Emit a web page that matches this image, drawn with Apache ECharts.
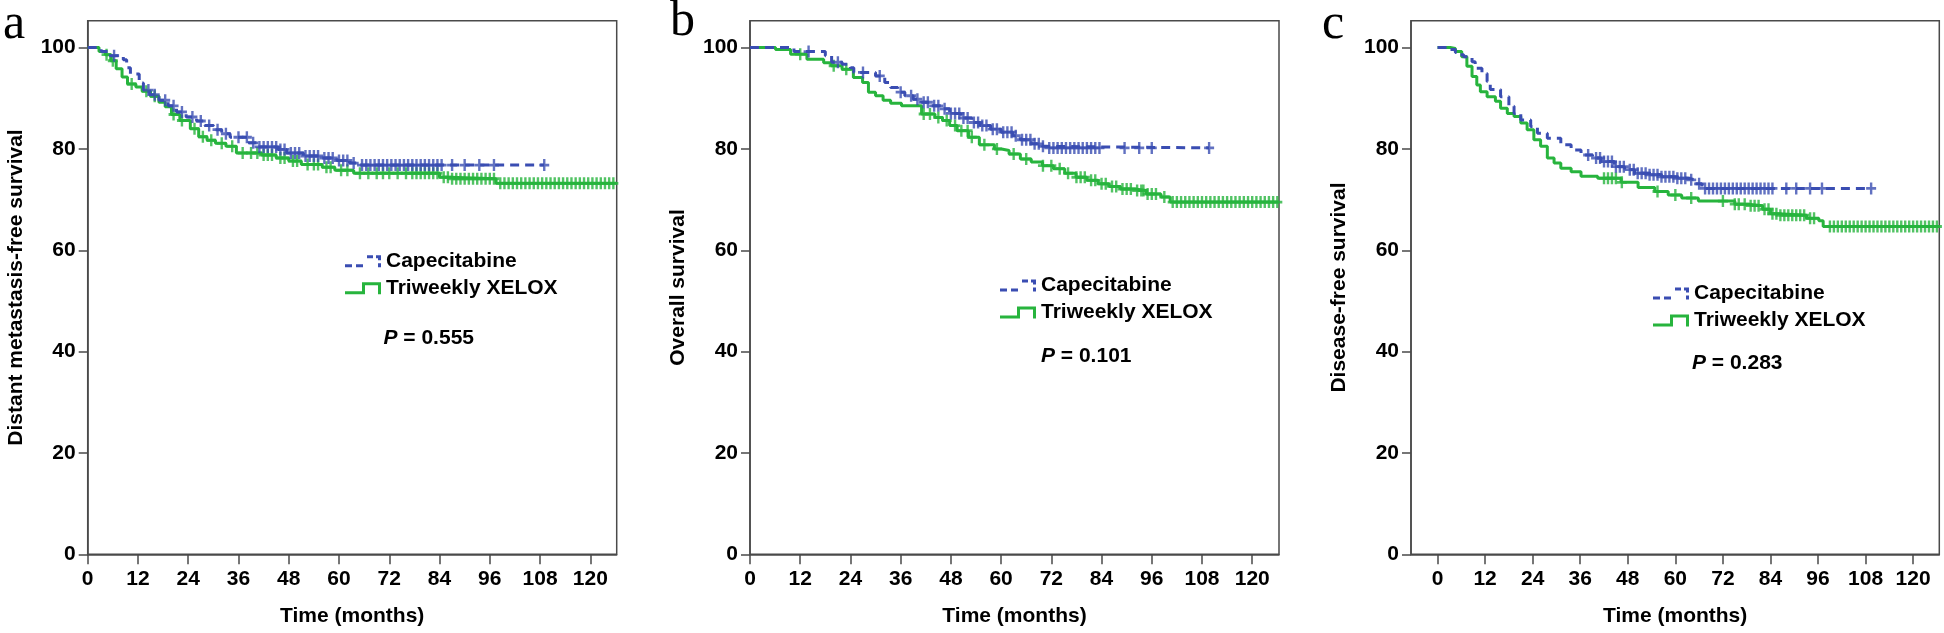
<!DOCTYPE html>
<html><head><meta charset="utf-8">
<script src="https://cdn.jsdelivr.net/npm/echarts@6/dist/echarts.min.js"></script>
<style>html,body{margin:0;padding:0;background:#fff}#c{width:1944px;height:633px}</style>
</head><body><div id="c"></div>
<script>
// ---------- DATA ----------
const xTicks = [0, 12, 24, 36, 48, 60, 72, 84, 96, 108, 120];
const yTicks = [0, 20, 40, 60, 80, 100];
const seriesNames = ['Capecitabine', 'Triweekly XELOX'];
const panelLetters = ['a', 'b', 'c'];
const yAxisNames = ['Distant metastasis-free survival', 'Overall survival', 'Disease-free survival'];
const xAxisName = 'Time (months)';
const pValues = ['0.555', '0.101', '0.283'];

// Panel a: distant metastasis-free survival  [month, survival %]
const aCap = [[0,100],[3.2,99.2],[5.5,98.4],[8.5,97.6],[9.3,96],[10.2,94.8],[12.3,93],[13.3,91.6],[14.8,90.7],[17,89.6],[19.2,88.5],[21.2,87.3],[23.5,86.3],[26,85.5],[28,84.6],[30,83.8],[32,83],[34,82.3],[38.5,81.2],[40.5,80.4],[45.5,79.9],[47.5,79.2],[51.5,78.6],[55.5,78.2],[59.5,77.7],[62.5,77.2],[64.5,76.8],[109,76.8]];
const aCapCens = [6.3,14.5,16,18.5,20.5,22.5,25,27,29,31,33,36,38,39.5,41,42,43,44,45,46,47,48.5,49.5,50.5,52,53,54,55,56.5,57.5,58.5,60,61,62,63.5,65.5,66.5,67.5,68.5,69.5,70.5,71.5,72.5,73.5,74.5,75.5,76.5,77.5,78.5,79.5,80.5,81.5,82.5,83.5,84.5,87,90,93.5,97,109];
const aTri = [[0,100],[2.7,99.2],[4.2,98.6],[5.5,97.4],[6.8,95.8],[8.2,94.2],[9.5,92.8],[11.5,92.2],[13,91.4],[15,90.4],[17,89.2],[18.5,88.3],[20,86.8],[22,85.6],[24.5,84],[26.5,82.4],[28.5,81.7],[30.5,81.1],[33,80.5],[35.5,79.2],[41.5,78.8],[45,78.2],[48,77.6],[51,76.9],[56,76.4],[59,75.8],[63.5,75.2],[84,74.4],[86.5,74.1],[97.5,73.2],[126.3,73.2]];
const aTriCens = [4.5,6,10.5,14,16,20.5,22.5,25.5,27.5,29.5,32,34.5,37,39,40.5,42,43,44,46,47,49,50,52.5,54,55,57,58,60.5,62,65,67,69,70.5,72,74,76,77.5,78.5,79.5,80.5,81.5,82.5,83.5,85,86,87,88,89,90,91,92,93,94,95,96,97,98.5,99.5,100.5,101.5,102.5,103.5,104.5,105.5,106.5,107.5,108.5,109.5,110.5,111.5,112.5,113.5,114.5,115.5,116.5,117.5,118.5,119.5,120.5,121.5,122.5,123.5,124.5,125.5];

// Panel b: overall survival
const bCap = [[0,100],[10.5,99.2],[18,98.4],[19.5,97.1],[22,96.7],[24,96],[24.8,95.1],[30,94.4],[32.2,93.1],[33.6,92.1],[35.3,91.2],[37,90.5],[39,89.8],[41,89.2],[43.3,88.5],[46,87.9],[47.7,87],[50.4,86.1],[53,85.2],[55,84.6],[57.5,83.9],[60,83.3],[62.8,82.6],[64.6,81.8],[67.2,81],[69.8,80.5],[70.8,80.2],[109.7,80.2]];
const bCapCens = [14,21,27,31,36,38.5,40,41.5,42.5,44,45,46.5,48,49,50,51,52,53.5,54.5,55.5,56.5,58,59,60.5,61.5,62.5,63.5,65,66,67,68,69,70,71.5,72.5,73.5,74.5,75.5,76.5,77.5,78.5,79.5,80.5,81.5,82.5,83.5,89.5,93,96,109.7];
const bTri = [[0,100],[6.1,99.6],[9.7,98.7],[13.6,97.7],[17.6,97],[19.4,96.4],[22,95.7],[24.7,94.1],[26.9,93.1],[28.3,91.2],[30,90.5],[31.8,89.6],[33.6,89],[36.2,88.5],[41,86.9],[44.2,86.2],[46,85.6],[47.7,84.6],[49.5,83.6],[52.2,82.3],[54.8,80.8],[58.4,80],[60.1,79.7],[61.9,79],[64.6,78],[67.2,77.4],[69.9,76.7],[72.5,76.1],[75.2,75.2],[77.9,74.4],[80.5,73.8],[83.2,73.1],[85.8,72.6],[88.5,72.1],[92,71.8],[94.7,71.1],[98.2,70.5],[100.4,69.5],[126.3,69.5]];
const bTriCens = [12,20,23,41.5,43,45,47,49,50.5,52,53,56,59,63,66,70,72,74,76,78,79,80,81.5,82.5,84,85,86.5,87.5,89,90,91,92.5,93.5,94,95,96,97,99,101,102,103,104,105,106,107,108,109,110,111,112,113,114,115,116,117,118,119,120,121,122,123,124,125,126];

// Panel c: disease-free survival
const cCap = [[0,100],[2.7,99.6],[4.5,99],[5.7,98.6],[6.6,98.2],[8.7,97.2],[9.5,95.9],[11.2,94.9],[12.5,93.3],[13.3,91.7],[15.9,90.3],[18,88.4],[19.3,87],[21,85.7],[23.5,84.4],[25.2,83.1],[27.7,82.1],[31.1,80.8],[33.7,79.8],[36.2,78.8],[39.1,78.2],[41.3,77.5],[44.6,76.5],[47.2,75.9],[49.7,75.2],[53.1,74.9],[56.5,74.5],[59.9,74.2],[63.3,73.9],[65,73.1],[66.7,72.2],[109.4,72.2]];
const cCapCens = [38,40,41,42,43,44,45,46,47,48.5,49.5,50.5,51.5,52.5,53.5,54.5,55.5,56.5,57.5,58.5,59.5,60.5,61.5,62.5,64,66,67.5,68.5,69.5,70.5,71.5,72.5,73.5,74.5,75.5,76.5,77.5,78.5,79.5,80.5,81.5,82.5,83.5,84.5,88,90.5,94,97,109.4];
const cTri = [[0,100],[3.2,99.8],[4.5,99.2],[6.1,98.2],[7.4,96.3],[8.7,94.3],[9.9,92.6],[10.8,91.3],[12.5,90.3],[14.6,89.4],[15.9,88],[17.6,87],[19.3,86.4],[21,85.1],[22.6,83.8],[24.3,81.8],[26,80.5],[27.7,78.2],[29.4,77.2],[31.1,76.2],[33.7,75.5],[36.2,74.6],[40.4,74.2],[46.3,73.4],[50.6,72.4],[54.8,71.6],[58.2,70.9],[61.6,70.3],[65.8,69.7],[75,69.1],[78.4,68.8],[82,68.1],[84,67.2],[86,66.9],[93.1,66.3],[96.2,65.8],[97.3,64.7],[126.6,64.7]];
const cTriCens = [42,43,44,45,46.5,55.5,60,64,72,75,76,77.5,79,80,81,82.5,83.5,84.5,85.5,86.5,87.5,88.5,89.5,90.5,91.5,92.5,94,95,99,100,101,102,103,104,105,106,107,108,109,110,111,112,113,114,115,116,117,118,119,120,121,122,123,124,125,126];

const capSteps = [aCap, bCap, cCap];
const capCens = [aCapCens, bCapCens, cCapCens];
const triSteps = [aTri, bTri, cTri];
const triCens = [aTriCens, bTriCens, cTriCens];

// ---------- LAYOUT / STYLE ----------
const FONT = "'Liberation Sans', Arial, sans-serif";
const BLUE = '#3a4db2';
const GREEN = '#27b43d';
const AXIS = '#4a4a4a';
const panels = [
  {left: 87.7, width: 529, xMin: 0, xMax: 126.3, legLeft: 345, legTop: 250.7, pX: 383.5, pY: 338.6, letX: 3, letY: 25},
  {left: 750, width: 529, xMin: 0, xMax: 126.4, legLeft: 1000, legTop: 274.9, pX: 1041, pY: 356.7, letX: 670, letY: 22},
  {left: 1411, width: 528.3, xMin: -6.7, xMax: 126.6, legLeft: 1653, legTop: 283, pX: 1692, pY: 362.8, letX: 1322, letY: 25}
];
const GRID_TOP = 20.7, GRID_H = 533.6;
const PLUS = 'path://M3.8,0H6.2V3.8H10V6.2H6.2V10H3.8V6.2H0V3.8H3.8Z';
const ICON_GREEN = 'path://M0,9H20V12H0Z M17,0H20V12H17Z M17,0H36V3H17Z M33,0H36V12H33Z';
const ICON_BLUE = 'path://M0,9H7V12H0Z M11,9H18V12H11Z M22,0H28V3H22Z M31,0H36V3H31Z M33,0H36V5H33Z M33,8H36V12H33Z';

function survAt(steps, t) {
  let s = steps[0][1];
  for (const p of steps) { if (p[0] <= t) s = p[1]; else break; }
  return s;
}

const grid = [], xAxis = [], yAxis = [], series = [], legend = [], graphic = [];
panels.forEach((P, i) => {
  grid.push({left: P.left, top: GRID_TOP, width: P.width, height: GRID_H, show: true,
    borderColor: AXIS, borderWidth: 1.5, backgroundColor: 'transparent'});
  xAxis.push({type: 'value', gridIndex: i, min: P.xMin, max: P.xMax,
    name: xAxisName, nameLocation: 'middle', nameGap: 51,
    nameTextStyle: {fontFamily: FONT, fontSize: 21, fontWeight: 'bold', color: '#000'},
    axisLine: {show: true, onZero: false, lineStyle: {color: AXIS, width: 1.5}},
    axisTick: {show: true, length: 10, customValues: xTicks, lineStyle: {color: AXIS, width: 1.5}},
    axisLabel: {customValues: xTicks, margin: 14, fontFamily: FONT, fontSize: 21, fontWeight: 'bold', color: '#000'},
    splitLine: {show: false}});
  yAxis.push({type: 'value', gridIndex: i, min: 0, max: 105.3,
    name: yAxisNames[i], nameLocation: 'middle', nameGap: 61,
    nameTextStyle: {fontFamily: FONT, fontSize: 21, fontWeight: 'bold', color: '#000'},
    axisLine: {show: true, onZero: false, lineStyle: {color: AXIS, width: 1.5}},
    axisTick: {show: true, length: 9, customValues: yTicks, lineStyle: {color: AXIS, width: 1.5}},
    axisLabel: {customValues: yTicks, margin: 12, fontFamily: FONT, fontSize: 21, fontWeight: 'bold', color: '#000'},
    splitLine: {show: false}});
  series.push({name: seriesNames[1], type: 'line', step: 'end', xAxisIndex: i, yAxisIndex: i,
    data: triSteps[i], showSymbol: false, symbol: 'none', itemStyle: {color: GREEN},
    lineStyle: {color: GREEN, width: 3}, silent: true, z: 2});
  series.push({name: seriesNames[1] + ' censored', type: 'scatter', xAxisIndex: i, yAxisIndex: i,
    data: triCens[i].map(t => [t, survAt(triSteps[i], t)]), symbol: PLUS, symbolSize: [10, 12],
    itemStyle: {color: GREEN}, silent: true, z: 2});
  series.push({name: seriesNames[0], type: 'line', step: 'end', xAxisIndex: i, yAxisIndex: i,
    data: capSteps[i], showSymbol: false, symbol: 'none', itemStyle: {color: BLUE},
    lineStyle: {color: BLUE, width: 3, type: [9, 6]}, silent: true, z: 3});
  series.push({name: seriesNames[0] + ' censored', type: 'scatter', xAxisIndex: i, yAxisIndex: i,
    data: capCens[i].map(t => [t, survAt(capSteps[i], t)]), symbol: PLUS, symbolSize: [10, 12],
    itemStyle: {color: BLUE}, silent: true, z: 3});
  legend.push({orient: 'vertical', left: P.legLeft, top: P.legTop, padding: 0, itemGap: 6,
    itemWidth: 36, itemHeight: 12, selectedMode: false,
    data: [{name: seriesNames[0], icon: ICON_BLUE, itemStyle: {color: BLUE, borderWidth: 0}},
           {name: seriesNames[1], icon: ICON_GREEN, itemStyle: {color: GREEN, borderWidth: 0}}],
    itemStyle: {borderWidth: 0},
    textStyle: {fontFamily: FONT, fontSize: 21, fontWeight: 'bold', color: '#000', padding: 0}});
  graphic.push({type: 'text', x: P.pX, y: P.pY, silent: true,
    style: {text: '{i|P}{n| = ' + pValues[i] + '}', verticalAlign: 'middle', align: 'left',
      rich: {i: {fontFamily: FONT, fontSize: 21, fontWeight: 'bold', fontStyle: 'italic', fill: '#000'},
             n: {fontFamily: FONT, fontSize: 21, fontWeight: 'bold', fill: '#000'}}}});
  graphic.push({type: 'text', x: P.letX, y: P.letY, silent: true,
    style: {text: panelLetters[i], font: "50px 'Liberation Serif', 'Times New Roman', serif",
      fill: '#000', verticalAlign: 'middle', align: 'left'}});
});

const chart = echarts.init(document.getElementById('c'), null, {renderer: 'canvas'});
chart.setOption({animation: false, backgroundColor: '#fff', grid, xAxis, yAxis, series, legend, graphic});
</script>
</body></html>
